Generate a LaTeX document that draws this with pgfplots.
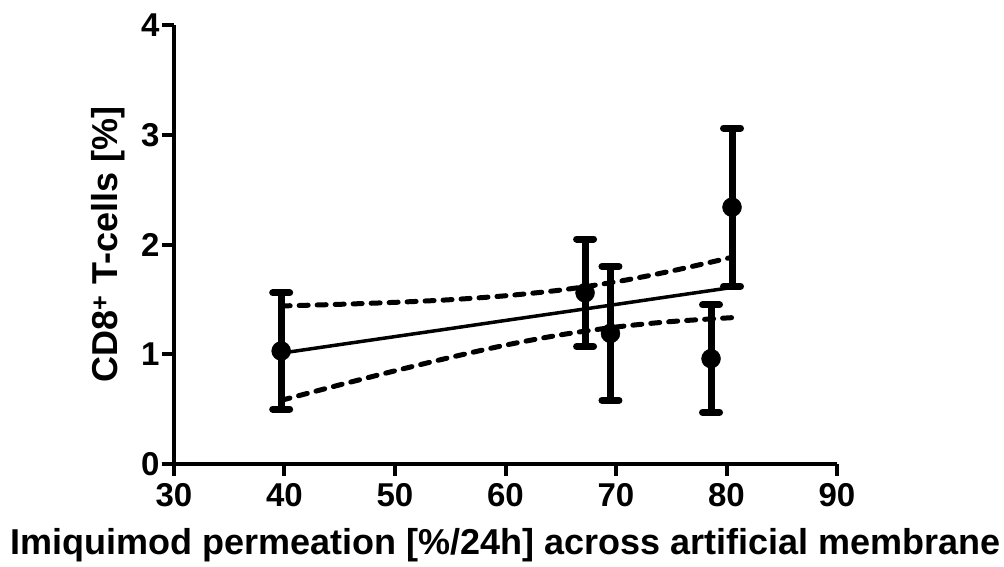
\documentclass[border=0pt]{standalone}
\usepackage{fontspec}
\setmainfont{Liberation Sans}
\usepackage{pgfplots}
\pgfplotsset{compat=1.18}
\usepackage{pgfplotstable}

% mean and SD of CD8+ T-cells for each formulation
\pgfplotstableread{
x    y    err
39.7 1.03 0.53
67.2 1.56 0.49
69.5 1.19 0.61
78.6 0.96 0.49
80.5 2.34 0.72
}\cdeight

% linear regression with 95% confidence band
\pgfplotstableread{
x    fit   upper lower
39.7 1.010 1.440 0.580
45   1.088 1.455 0.721
50   1.161 1.473 0.849
55   1.234 1.497 0.971
60   1.308 1.533 1.083
65   1.381 1.585 1.177
70   1.454 1.660 1.248
75   1.528 1.758 1.298
80.6 1.610 1.886 1.334
}\regfit

\begin{document}
\begin{tikzpicture}
\begin{axis}[
  scale only axis, width=663pt, height=439pt,
  xmin=30, xmax=90, ymin=0, ymax=4,
  axis x line*=bottom, axis y line*=left,
  axis line style={line width=4pt, -},
  xtick={30,40,...,90}, ytick={0,1,2,3,4},
  tick align=outside, major tick length=12pt,
  tick style={black, line width=4pt},
  /pgf/number format/assume math mode=true,
  tick label style={font=\fontsize{33}{39}\selectfont\bfseries},
  xticklabel style={yshift=-4pt},
  yticklabel style={xshift=1pt},
  xlabel={Imiquimod permeation [\%/24h] across artificial membrane},
  ylabel={CD8\textsuperscript{+} T-cells [\%]},
  label style={font=\fontsize{36}{42}\selectfont\bfseries},
  xlabel style={at={(axis description cs:0.5,-0.1845)}, anchor=center},
  ylabel style={at={(axis description cs:-0.0995,0.5)}, anchor=center},
  clip=false,
]
\coordinate (o) at (rel axis cs:0,0);
\addplot[black, line width=3.5pt, no marks] table[x=x, y=fit] {\regfit};
\addplot[black, line width=5pt, no marks, smooth, line cap=round, dash pattern=on 9pt off 9pt] table[x=x, y=upper] {\regfit};
\addplot[black, line width=5pt, no marks, smooth, line cap=round, dash pattern=on 9pt off 9pt] table[x=x, y=lower] {\regfit};
\addplot[black, only marks, mark=*, mark size=9.5pt,
  error bars/.cd, y dir=both, y explicit,
  error bar style={line width=7pt},
  error mark options={rotate=90, line width=7pt, mark size=8.5pt, line cap=round}]
  table[x=x, y=y, y error=err] {\cdeight};
\end{axis}
\pgfresetboundingbox
\path (o) ++(-174pt,-102pt) rectangle ++(1004pt,566pt);
\end{tikzpicture}
\end{document}
